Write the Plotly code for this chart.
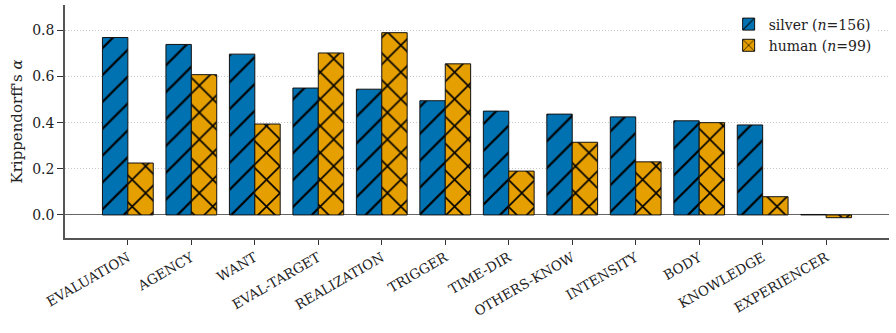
import plotly.graph_objects as go

categories = ["EVALUATION", "AGENCY", "WANT", "EVAL-TARGET", "REALIZATION", "TRIGGER",
              "TIME-DIR", "OTHERS-KNOW", "INTENSITY", "BODY", "KNOWLEDGE", "EXPERIENCER"]
silver = [0.769, 0.739, 0.697, 0.550, 0.545, 0.495, 0.450, 0.437, 0.425, 0.408, 0.390, 0.002]
human = [0.225, 0.608, 0.394, 0.702, 0.790, 0.655, 0.190, 0.315, 0.230, 0.400, 0.079, -0.012]
y_ticks = [0.0, 0.2, 0.4, 0.6, 0.8]

FONT = "DejaVu Serif"

fig = go.Figure()
fig.add_trace(go.Bar(
    x=categories, y=silver, name="silver (<i>n</i>=156)",
    marker=dict(color="#0072B2", line=dict(color="#111", width=1),
                pattern=dict(shape="/", fgcolor="black", fgopacity=1, size=19, solidity=0.12)),
))
fig.add_trace(go.Bar(
    x=categories, y=human, name="human (<i>n</i>=99)",
    marker=dict(color="#E69F00", line=dict(color="#111", width=1),
                pattern=dict(shape="x", fgcolor="black", fgopacity=1, size=19, solidity=0.16)),
))

fig.update_layout(
    width=896, height=333,
    margin=dict(l=65, r=7, t=5, b=95),
    barmode="group", bargap=0.2, bargroupgap=0,
    plot_bgcolor="white", paper_bgcolor="white",
    font=dict(family=FONT, size=14, color="#222"),
    legend=dict(x=0.985, y=0.985, xanchor="right", yanchor="top",
                bgcolor="rgba(255,255,255,0.8)", font=dict(size=14),
                tracegroupgap=2),
    xaxis=dict(
        range=[-0.99, 11.99], tickangle=-30, showline=True, linecolor="#555",
        linewidth=1.5, ticks="outside", ticklen=5, tickcolor="#333",
        showgrid=False, tickfont=dict(size=13.5),
    ),
    yaxis=dict(
        range=[-0.1, 0.91], tickvals=y_ticks, tickformat=".1f",
        showline=True, linecolor="#555", linewidth=1.5, ticks="outside",
        ticklen=6, tickcolor="#333", tickfont=dict(size=14),
        showgrid=True, gridcolor="#c8c8c8", griddash="1px,2px", gridwidth=1,
        zeroline=True, zerolinecolor="#666", zerolinewidth=1.2,
        title=dict(text="Krippendorff's <i>α</i>", font=dict(size=15), standoff=6),
    ),
)

fig.write_html("out.html")
